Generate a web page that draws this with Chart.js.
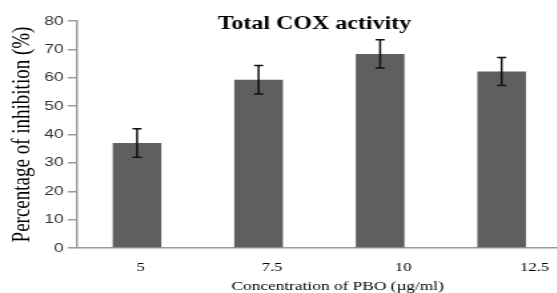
<!DOCTYPE html>
<html>
<head>
<meta charset="utf-8">
<script src="https://cdn.jsdelivr.net/npm/chart.js@4/dist/chart.umd.min.js"></script>
<style>
  html, body { margin: 0; padding: 0; background: #fff; overflow: hidden; }
  /* the reference is stretched sideways, so the canvas is drawn narrow and scaled up by css */
  #coxChart { display: block; width: 566px; height: 293px; }
</style>
</head>
<body>
<canvas id="coxChart" width="425" height="293" style="width:566px;height:293px"></canvas>
<script>
const concentrations = ['5', '7.5', '10', '12.5'];
const inhibition = [37, 59.3, 68.4, 62.2];
const errors = [5, 5, 5, 4.9];
const yMin = 0;
const yMax = 80;
const yStep = 10;
const chartTitle = 'Total COX activity';
const xTitle = 'Concentration of PBO (µg/ml)';
const yTitle = 'Percentage of inhibition (%)';

const serif = '"Liberation Serif", "Times New Roman", serif';

// error bars drawn on top of the bars
const errorBars = {
    id: 'errorBars',
    afterDatasetsDraw(chart) {
        const ctx = chart.ctx;
        const y = chart.scales.y;
        const meta = chart.getDatasetMeta(0);
        ctx.save();
        ctx.strokeStyle = '#111';
        ctx.lineWidth = 1.5;
        meta.data.forEach((bar, i) => {
            const top = y.getPixelForValue(inhibition[i] + errors[i]);
            const bottom = y.getPixelForValue(inhibition[i] - errors[i]);
            const cap = 3.4;
            ctx.beginPath();
            ctx.moveTo(bar.x, top);
            ctx.lineTo(bar.x, bottom);
            ctx.moveTo(bar.x - cap, top);
            ctx.lineTo(bar.x + cap, top);
            ctx.moveTo(bar.x - cap, bottom);
            ctx.lineTo(bar.x + cap, bottom);
            ctx.stroke();
        });
        ctx.restore();
    }
};

// chart title and x title sit where the reference puts them, not where chart.js would
const chartText = {
    id: 'chartText',
    afterDraw(chart) {
        const ctx = chart.ctx;
        const area = chart.chartArea;
        const xl = chart.scales.xl;
        ctx.save();
        ctx.fillStyle = '#000';
        ctx.textAlign = 'center';
        ctx.textBaseline = 'alphabetic';
        ctx.font = 'bold 18px ' + serif;
        ctx.fillText(chartTitle, area.left + area.width * 0.49, area.top + 8);
        ctx.font = '13px ' + serif;
        ctx.fillText(xTitle, xl.getPixelForValue(1.5), chart.height - 3);
        ctx.restore();
    }
};

const ctx = document.getElementById('coxChart').getContext('2d');

new Chart(ctx, {
    type: 'bar',
    data: {
        labels: concentrations,
        datasets: [{
            data: inhibition,
            backgroundColor: '#5f5f5f',
            borderWidth: 0,
            barPercentage: 0.4,
            categoryPercentage: 1
        }]
    },
    options: {
        responsive: false,
        animation: false,
        events: [],
        layout: { padding: { top: 21, right: 0, bottom: 5, left: 5.5 } },
        plugins: {
            legend: { display: false },
            tooltip: { enabled: false }
        },
        scales: {
            x: {
                type: 'category',
                offset: true,
                weight: 0,
                grid: { display: false, drawTicks: false },
                border: { color: '#9a9a9a', width: 1.5 },
                ticks: { display: false }
            },
            // tick labels are spaced wider than the bars in the reference
            xl: {
                type: 'linear',
                position: 'bottom',
                weight: 1,
                offset: false,
                bounds: 'data',
                min: -0.491,
                max: 3.212,
                grid: { display: false, drawTicks: false },
                border: { display: false },
                afterBuildTicks: (scale) => {
                    scale.ticks = concentrations.map((c, i) => ({ value: i }));
                },
                ticks: {
                    padding: 12.5,
                    color: '#000',
                    font: { family: serif, size: 12.5 },
                    maxRotation: 0,
                    callback: (v, i) => concentrations[i]
                }
            },
            y: {
                min: yMin,
                max: yMax,
                grid: {
                    drawOnChartArea: false,
                    drawTicks: true,
                    tickLength: 6.5,
                    color: '#9a9a9a',
                    lineWidth: 1.5
                },
                border: { color: '#9a9a9a', width: 1.5 },
                ticks: {
                    stepSize: yStep,
                    padding: 3,
                    color: '#333',
                    font: { family: '"Liberation Sans", Arial, sans-serif', size: 13 }
                },
                title: {
                    display: true,
                    text: yTitle,
                    color: '#000',
                    font: { family: serif, size: 19 },
                    padding: { top: 0, bottom: 2 }
                }
            }
        }
    },
    plugins: [errorBars, chartText]
});
</script>
</body>
</html>
